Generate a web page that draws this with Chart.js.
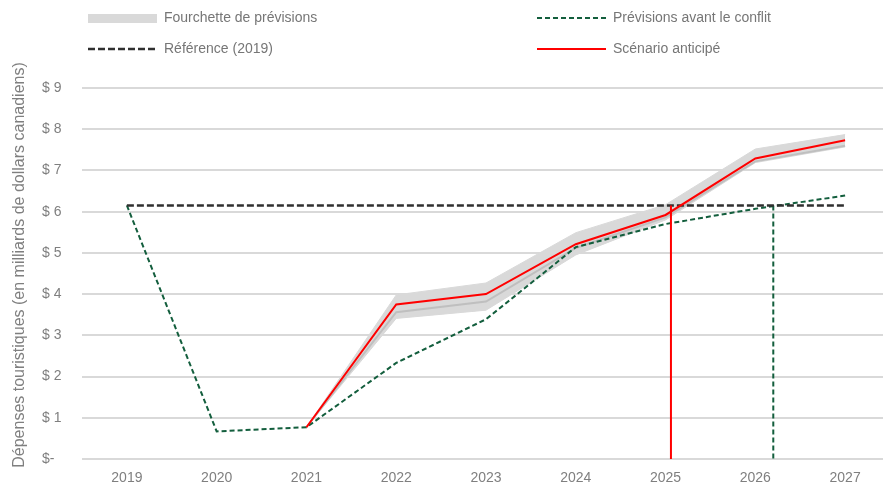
<!DOCTYPE html>
<html><head><meta charset="utf-8">
<script src="https://cdn.jsdelivr.net/npm/chart.js@4"></script>
<style>html,body{margin:0;padding:0;overflow:hidden;background:#fff}#wrap{width:892px;height:485px}</style>
</head><body><div id="wrap"><canvas id="c" width="892" height="485"></canvas></div>
<script>
// ---- data ----
const years = [2019, 2020, 2021, 2022, 2023, 2024, 2025, 2026, 2027];
const bandYears = [2021, 2022, 2023, 2024, 2025, 2026, 2027];
const prevAvantConflit = [6.15, 0.67, 0.77, 2.33, 3.39, 5.14, 5.70, 6.07, 6.39];
const reference2019 = [6.15, 6.15, 6.15, 6.15, 6.15, 6.15, 6.15, 6.15, 6.15];
const scenarioAnticipe = [0.77, 3.75, 4.00, 5.21, 5.92, 7.29, 7.73];
const fourchetteHaute = [0.77, 3.98, 4.27, 5.49, 6.17, 7.52, 7.87];
const fourchetteBasse = [0.77, 3.41, 3.61, 4.95, 5.80, 7.19, 7.57];
const fourchetteMediane = [0.77, 3.56, 3.82, 5.12, 5.86, 7.22, 7.60];
const scenarioCroisementX = [2025.06, 2025.06];
const scenarioCroisementY = [6.15, 0];
const prevCroisementX = [2026.2, 2026.2];
const prevCroisementY = [6.15, -0.1];
const yTickLabels = ['$-', '$ 1', '$ 2', '$ 3', '$ 4', '$ 5', '$ 6', '$ 7', '$ 8', '$ 9'];
const yTickValues = [0, 1, 2, 3, 4, 5, 6, 7, 8, 9];
const yAxisTitle = 'Dépenses touristiques (en milliards de dollars canadiens)';
const legendLabels = ['Fourchette de prévisions', 'Prévisions avant le conflit', 'Référence (2019)', 'Scénario anticipé'];

const pts = (xs, ys) => xs.map((x, i) => ({x: x, y: ys[i]}));

const FONT = "'Liberation Sans', Arial, sans-serif";
const TXT = '#7f7f7f';
const GREEN = '#135e3d';
const RED = '#ff0000';
const DARK = '#303030';
const BAND = '#d9d9d9';

Chart.defaults.font.family = FONT;
Chart.defaults.color = TXT;

const legendPlugin = {
  id: 'customLegend',
  afterDraw(chart) {
    const ctx = chart.ctx;
    ctx.save();
    ctx.font = '14px ' + FONT;
    ctx.fillStyle = '#767676';
    ctx.textBaseline = 'middle';
    const items = [
      {x: 88, y: 18, kind: 'band'},
      {x: 537, y: 18, kind: 'green'},
      {x: 88, y: 49, kind: 'dark'},
      {x: 537, y: 49, kind: 'red'}
    ];
    items.forEach((it, i) => {
      const w = 69;
      ctx.save();
      if (it.kind === 'band') {
        ctx.fillStyle = BAND;
        ctx.fillRect(it.x, it.y - 4, w, 9);
      } else {
        ctx.beginPath();
        ctx.moveTo(it.x, it.y); ctx.lineTo(it.x + w, it.y);
        if (it.kind === 'green') { ctx.strokeStyle = GREEN; ctx.lineWidth = 2; ctx.setLineDash([5, 3]); }
        if (it.kind === 'dark') { ctx.strokeStyle = DARK; ctx.lineWidth = 2.5; ctx.setLineDash([7, 3]); }
        if (it.kind === 'red') { ctx.strokeStyle = RED; ctx.lineWidth = 2; }
        ctx.stroke();
      }
      ctx.restore();
      ctx.fillText(legendLabels[i], it.x + 76, it.y);
    });
    // y axis title
    ctx.save();
    ctx.translate(20, 265);
    ctx.rotate(-Math.PI / 2);
    ctx.textAlign = 'center';
    ctx.textBaseline = 'middle';
    ctx.font = '16px ' + FONT;
    ctx.fillStyle = TXT;
    ctx.fillText(yAxisTitle, 0, 0);
    ctx.restore();
    ctx.restore();
  }
};

new Chart(document.getElementById('c'), {
  type: 'line',
  data: {
    datasets: [
      {label: 'Scénario anticipé', data: pts(bandYears, scenarioAnticipe), borderColor: RED, borderWidth: 2, pointRadius: 0, order: 1, fill: false},
      {label: 'Croisement scénario', data: pts(scenarioCroisementX, scenarioCroisementY), borderColor: RED, borderWidth: 2, pointRadius: 0, order: 2, fill: false},
      {label: 'Référence (2019)', data: pts(years, reference2019), borderColor: DARK, borderWidth: 2.5, borderDash: [7, 3], pointRadius: 0, order: 3, fill: false},
      {label: 'Prévisions avant le conflit', data: pts(years, prevAvantConflit), borderColor: GREEN, borderWidth: 2, borderDash: [5, 3], pointRadius: 0, order: 4, fill: false},
      {label: 'Croisement prévisions', data: pts(prevCroisementX, prevCroisementY), borderColor: GREEN, borderWidth: 2, borderDash: [5, 3], pointRadius: 0, order: 5, fill: false},
      {label: 'Médiane', data: pts(bandYears, fourchetteMediane), borderColor: '#bfbfbf', borderWidth: 2, pointRadius: 0, order: 6, fill: false},
      {label: 'Fourchette haute', data: pts(bandYears, fourchetteHaute), borderColor: BAND, borderWidth: 1, backgroundColor: BAND, pointRadius: 0, order: 7, fill: '+1'},
      {label: 'Fourchette basse', data: pts(bandYears, fourchetteBasse), borderColor: BAND, borderWidth: 1, pointRadius: 0, order: 8, fill: false}
    ]
  },
  options: {
    responsive: false,
    animation: false,
    devicePixelRatio: 1,
    layout: {padding: {left: 42, right: 2, top: 88, bottom: 0}},
    plugins: {legend: {display: false}, tooltip: {enabled: false}},
    scales: {
      x: {
        type: 'linear', min: 2018.5, max: 2027.5,
        afterBuildTicks: (s) => { s.ticks = years.map(v => ({value: v})); },
        afterFit: (s) => { s.height = 26; },
        grid: {display: false, drawTicks: false},
        border: {display: false},
        ticks: {color: TXT, font: {size: 14}, padding: 11, maxRotation: 0, autoSkip: false, callback: (v) => String(v)}
      },
      y: {
        type: 'linear', min: 0, max: 9,
        afterBuildTicks: (s) => { s.ticks = yTickValues.map(v => ({value: v})); },
        afterFit: (s) => { s.width = 40; },
        grid: {color: '#d9d9d9', lineWidth: 2, drawTicks: false},
        border: {display: false},
        ticks: {color: TXT, font: {size: 14}, crossAlign: 'far', padding: 0, callback: (v) => yTickLabels[yTickValues.indexOf(v)]}
      }
    }
  },
  plugins: [legendPlugin]
});
</script></body></html>
